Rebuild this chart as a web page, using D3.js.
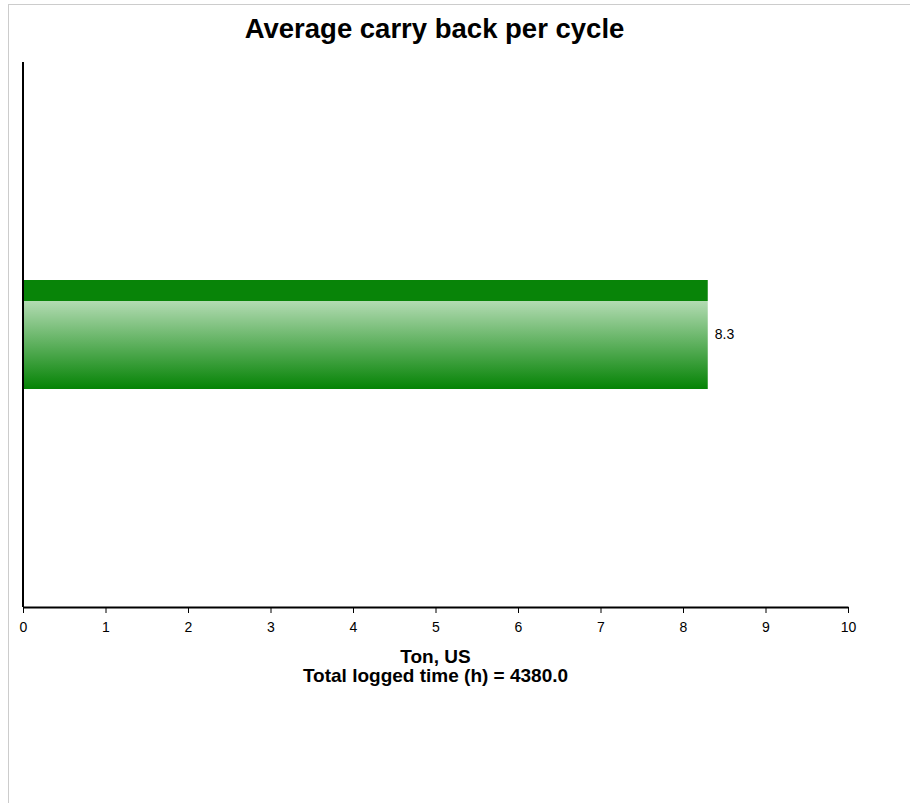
<!DOCTYPE html>
<html>
<head>
<meta charset="utf-8">
<script src="https://cdn.jsdelivr.net/npm/d3@7"></script>
<style>
  body { margin: 0; background: #fff; font-family: Arial, "Liberation Sans", sans-serif; }
  #chart { position: absolute; left: 8px; top: 4px; width: 910px; height: 803px;
    border-left: 1px solid #ccc; border-top: 1px solid #ccc; }
  .axis path, .axis line { stroke: #000; }
  .axis text { font-size: 14px; font-family: Arial, "Liberation Sans", sans-serif; fill: #000; }
</style>
</head>
<body>
<div id="chart"></div>
<script>
// Average carry back per cycle
var categories = ["Carry back"];
var values = [8.3];
var xTicks = [0, 1, 2, 3, 4, 5, 6, 7, 8, 9, 10];
var title = "Average carry back per cycle";
var xTitle = ["Ton, US", "Total logged time (h) = 4380.0"];

var w = 902, h = 799;
var margin = {left: 14, right: 63, top: 57, bottom: 197};

var svg = d3.select("#chart").append("svg")
  .attr("width", w)
  .attr("height", h);

var defs = svg.append("defs");
var grad = defs.append("linearGradient")
  .attr("id", "barGrad")
  .attr("x1", 0).attr("y1", 0).attr("x2", 0).attr("y2", 1);
grad.append("stop").attr("offset", "0%").attr("stop-color", "#088408");
grad.append("stop").attr("offset", "19.5%").attr("stop-color", "#088408");
grad.append("stop").attr("offset", "19.5%").attr("stop-color", "#b2dbb2");
grad.append("stop").attr("offset", "100%").attr("stop-color", "#058305");

var x = d3.scaleLinear()
  .domain([0, 10])
  .range([margin.left, w - margin.right]);

var y = d3.scaleBand()
  .domain(categories)
  .range([margin.top, h - margin.bottom])
  .paddingInner(0)
  .paddingOuter(2);

svg.append("text")
  .attr("x", (x.range()[0] + x.range()[1]) / 2 - 1)
  .attr("y", 33)
  .attr("text-anchor", "middle")
  .style("font-size", "27.5px")
  .style("font-weight", "bold")
  .text(title);

svg.selectAll(".bar")
  .data(values)
.enter().append("rect")
  .attr("class", "bar")
  .attr("x", x(0))
  .attr("y", function(d, i) { return y(categories[i]); })
  .attr("width", function(d) { return x(d) - x(0); })
  .attr("height", y.bandwidth())
  .attr("fill", "url(#barGrad)");

svg.selectAll(".value")
  .data(values)
.enter().append("text")
  .attr("class", "value")
  .attr("x", function(d) { return x(d) + 7; })
  .attr("y", function(d, i) { return y(categories[i]) + y.bandwidth() / 2; })
  .attr("dy", ".35em")
  .style("font-size", "14px")
  .text(function(d) { return d.toFixed(1); });

var xAxis = svg.append("g")
  .attr("class", "axis")
  .attr("transform", "translate(0," + (h - margin.bottom) + ")")
  .call(d3.axisBottom(x).tickValues(xTicks).tickSize(6).tickSizeOuter(0).tickPadding(9));
xAxis.select(".domain").attr("stroke-width", 2);

svg.append("line")
  .attr("x1", margin.left).attr("x2", margin.left)
  .attr("y1", margin.top).attr("y2", h - margin.bottom)
  .attr("stroke", "#000")
  .attr("stroke-width", 2);

svg.selectAll(".xtitle")
  .data(xTitle)
.enter().append("text")
  .attr("class", "xtitle")
  .attr("x", (x.range()[0] + x.range()[1]) / 2)
  .attr("y", function(d, i) { return h - margin.bottom + 56 + i * 19; })
  .attr("text-anchor", "middle")
  .style("font-size", "19px")
  .style("font-weight", "bold")
  .text(String);
</script>
</body>
</html>
